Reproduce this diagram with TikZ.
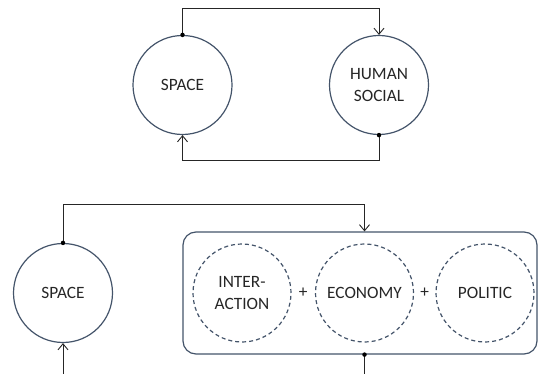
\documentclass[tikz,border=0pt]{standalone}
\usepackage{fontspec}
\setmainfont{Carlito}
\usetikzlibrary{arrows.meta,positioning,calc}
\definecolor{ringblue}{RGB}{68,84,106}
\definecolor{inkgray}{RGB}{38,38,38}

\begin{document}
\begin{tikzpicture}[x=1pt, y=-1pt,
    circ/.style={circle, draw=ringblue, line width=1.2pt, minimum size=99pt, inner sep=0pt,
      align=center, text=inkgray, font=\fontsize{17.3}{22}\selectfont},
    dashcirc/.style={circ, dashed, dash pattern=on 4pt off 3pt, minimum size=98pt},
    grp/.style={draw=ringblue, line width=1.2pt, rounded corners=13pt, minimum width=354pt, minimum height=122pt, inner sep=0pt},
    flow/.style={line width=0.9pt, black!85, -{Straight Barb[length=6pt,width=10pt]}},
    knot/.style={circle, fill=black, inner sep=0pt, minimum size=4.5pt},
    plus/.style={text=inkgray, font=\fontsize{17.3}{22}\selectfont}
  ]
  \useasboundingbox (0,0) rectangle (538,374);
  \clip (0,0) rectangle (538,374);

  % upper loop
  \node[circ] (space1) at (182.5,85) {SPACE};
  \node[circ] (human) at (379,85) {HUMAN\\SOCIAL};

  \draw[flow] (space1.north) -- ++(0,-26) -| (human.north);
  \draw[flow] (human.south) -- ++(0,25) -| (space1.south);
  \node[knot] at (space1.north) {};
  \node[knot] at (human.south) {};

  % lower loop
  \node[circ] (space2) at (63,293) {SPACE};
  \node[grp] (group) at (360,293) {};
  \node[dashcirc] (inter) at (242,293) {INTER-\\ACTION};
  \node[dashcirc] (econ) at (364.5,293) {ECONOMY};
  \node[dashcirc] (polit) at (485,293) {POLITIC};
  \node[plus] (plusa) at ($(inter.east)!0.5!(econ.west)$) {+};
  \node[plus] (plusb) at ($(econ.east)!0.5!(polit.west)$) {+};

  \draw[flow] (space2.north) -- ++(0,-38) -| (econ |- group.north);
  \draw[flow] (econ |- group.south) -- ++(0,40) -| (space2.south);
  \node[knot] at (space2.north) {};
  \node[knot] at (econ |- group.south) {};
\end{tikzpicture}
\end{document}
